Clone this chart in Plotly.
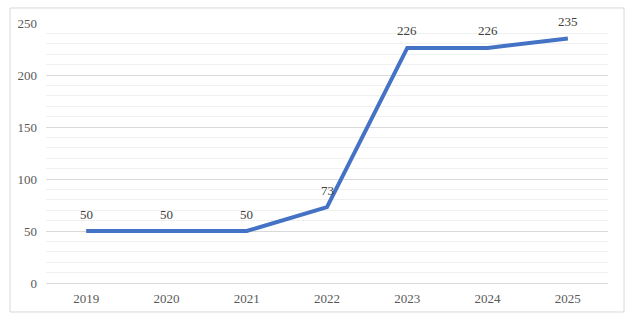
import plotly.graph_objects as go

years = ["2019", "2020", "2021", "2022", "2023", "2024", "2025"]
values = [50, 50, 50, 73, 226, 226, 235]

fig = go.Figure()
fig.add_trace(go.Scatter(
    x=years, y=values, mode="lines",
    line=dict(color="#4472C4", width=4),
    showlegend=False, hoverinfo="x+y",
))

for i, v in enumerate(values):
    fig.add_annotation(x=i, y=v, xref="x", yref="y", text=str(v), showarrow=False, yshift=17,
                       font=dict(family="Liberation Serif", size=13, color="#404040"))

fig.update_layout(
    width=634, height=323,
    margin=dict(l=46, r=26, t=23, b=40),
    paper_bgcolor="white", plot_bgcolor="white",
    font=dict(family="Liberation Serif", size=13, color="#595959"),
    xaxis=dict(type="category", range=[-0.5, 6.5], showgrid=False, showline=False,
               ticks="", ticklabelstandoff=6, zeroline=False),
    yaxis=dict(range=[0, 250], dtick=50, showgrid=True, gridcolor="#d9d9d9", gridwidth=1,
               zeroline=True, zerolinecolor="#d9d9d9", zerolinewidth=1, showline=False,
               ticks="", ticklabelstandoff=8,
               minor=dict(dtick=10, showgrid=True, gridcolor="#f0f0f0", gridwidth=1)),
    shapes=[dict(type="rect", xref="paper", yref="paper",
                 x0=-0.064, x1=1.0285, y0=-0.1115, y1=1.0577,
                 line=dict(color="#d9d9d9", width=1), fillcolor="rgba(0,0,0,0)", layer="below")],
)

fig.write_html("out.html")
